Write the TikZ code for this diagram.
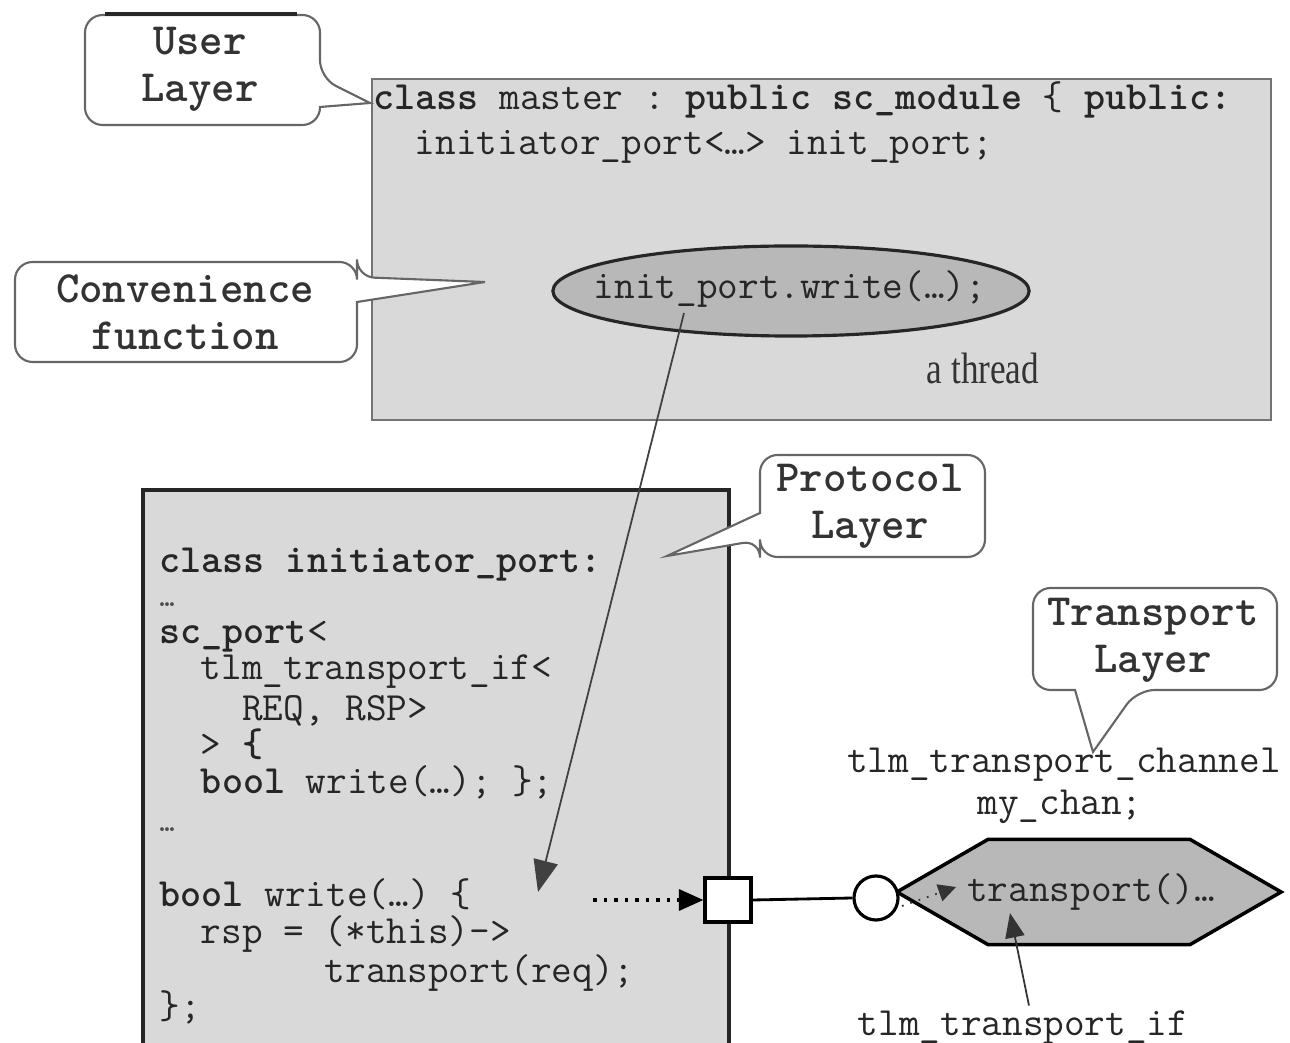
\documentclass[tikz,border=0pt]{standalone}
\usepackage{fontspec}
\setmainfont{Liberation Serif}
\usetikzlibrary{shapes.geometric,shapes.symbols,arrows.meta}

\newcommand{\cfont}{\ttfamily\fontsize{11.4}{13}\selectfont}
\newcommand{\lfont}{\ttfamily\bfseries\fontsize{12.7}{13.4}\selectfont}

\begin{document}
\begin{tikzpicture}[x=0.01cm,y=-0.01cm,
    code/.style={font=\cfont,text=black!85,inner sep=0pt,anchor=base west},
    dots/.style={font=\ttfamily\fontsize{8}{9}\selectfont,text=black!70,inner sep=0pt,anchor=base west},
    layer/.style={font=\lfont,text=black!80,align=center,inner sep=0pt},
    callbox/.style={draw=black!60,line width=0.6pt,fill=white},
    modbox/.style={draw=black!55,line width=0.6pt,fill=black!15,inner sep=0pt},
    portbox/.style={draw=black!85,line width=1.2pt,fill=black!15,inner sep=0pt},
    thread/.style={ellipse,draw=black!85,line width=0.9pt,fill=black!28,inner sep=0pt},
    chan/.style={signal,signal to=east and west,signal pointer angle=60,draw=black,line width=1pt,fill=black!28,inner sep=0pt},
    sport/.style={draw=black,line width=0.9pt,fill=white,inner sep=0pt}]
  \useasboundingbox (0,0) rectangle (1290,1043);

  % user layer: class master
  \node [modbox,minimum width=8.99cm,minimum height=3.41cm] (master) at (821.5,249.5) {};
  \node [code] (m1) at (373,110) {{\bfseries class}~master~:~{\bfseries public~sc\_module}~\{~{\bfseries public:}};
  \node [code] (m2) at (373,155) {~~initiator\_port<…>~init\_port;};
  \node [thread,minimum width=4.76cm,minimum height=0.9cm] (wcall) at (791,291) {};
  \node [code,anchor=base] (wtext) at (790,299) {init\_port.write(…);};
  \node [font=\fontsize{12.5}{14}\selectfont,text=black!80,xscale=0.8,inner sep=0pt,anchor=base] (thr) at (983,384) {a thread};

  % protocol layer: class initiator_port
  \node [portbox,minimum width=5.86cm,minimum height=5.7cm] (iport) at (436,775) {};
  \node [code] (p1) at (159,573) {\bfseries class~initiator\_port:};
  \node [dots] (p2) at (159,607) {…};
  \node [code] (p3) at (159,644) {{\bfseries sc\_port}<};
  \node [code] (p4) at (159,680) {~~tlm\_transport\_if<};
  \node [code] (p5) at (159,721) {~~~~REQ,~RSP>};
  \node [code] (p6) at (159,757) {~~>~{\bfseries\{}};
  \node [code] (p7) at (159,794) {~~{\bfseries bool}~write(…);~\};};
  \node [dots] (p8) at (159,832) {…};
  \node [code] (p9) at (159,907) {{\bfseries bool}~write(…)~\{};
  \node [code] (p10) at (159,944) {~~rsp~=~(*this)->};
  \node [code] (p11) at (159,982) {~~~~~~~~transport(req);};
  \node [code] (p12) at (159,1019) {\};};

  % transport layer: channel
  \node [sport,minimum width=0.46cm,minimum height=0.44cm] (port) at (728,900) {};
  \node [chan,minimum width=3.84cm,minimum height=1.05cm] (chan) at (1089,892) {};
  \node [code,anchor=base] (ctext) at (1091,902) {transport()…};
  \node [sport,circle,minimum size=0.44cm] (export) at (876,898) {};
  \node [code,anchor=base] (ch1) at (1064,773) {tlm\_transport\_channel};
  \node [code,anchor=base] (ch2) at (1060,815) {my\_chan;};
  \node [code,anchor=base] (tif) at (1023,1035) {tlm\_transport\_if};

  % connectors
  \coordinate (wstart) at (684,313);
  \coordinate (wend) at (538,892);
  \coordinate (dstart) at (593,900);
  \coordinate (tstart) at (902,906);
  \coordinate (tend) at (956,887);
  \coordinate (ifend) at (1010,913);
  \draw [black!75,line width=0.5pt,-{Triangle[length=9pt,width=7pt]}] (wstart) -- (wend);
  \draw [black,line width=1pt,dotted,-{Triangle[length=7pt,width=6pt]}] (dstart) -- (port.west);
  \draw [black,line width=0.8pt] (port.east) -- (export.west);
  \draw [black!80,line width=0.5pt,dotted,-{Triangle[length=5pt,width=5pt]}] (tstart) -- (tend);
  \draw [black!80,line width=0.5pt,-{Triangle[length=7pt,width=5.5pt]}] (tif.north) ++(6,-4) -- (ifend);

  % callouts
  \draw [callbox,rounded corners=5pt] (85,15) -- (320,15) -- (320,78) [sharp corners] -- (370,103) -- (320,107) [rounded corners=5pt] -- (320,125) -- (85,125) -- cycle;
  \draw [black!85,line width=1.3pt] (105,14) -- (297,14);
  \node [layer] (ulayer) at (200,69) {User\\Layer};
  \draw [callbox,rounded corners=5pt] (15,262) -- (357,262) -- (357,277) [sharp corners] -- (485,282) -- (357,302) [rounded corners=5pt] -- (357,362) -- (15,362) -- cycle;
  \node [layer] (clayer) at (185,312) {Convenience\\function};
  \draw [callbox,rounded corners=5pt] (760,455) -- (985,455) -- (985,557) -- (760,557) -- (760,540) [sharp corners] -- (667,556) -- (760,513) [rounded corners=5pt] -- cycle;
  \node [layer] (player) at (870,506) {Protocol\\Layer};
  \draw [callbox,rounded corners=5pt] (1033,588) -- (1277,588) -- (1277,690) -- (1137,690) [sharp corners] -- (1093,752) -- (1075,690) [rounded corners=5pt] -- (1033,690) -- cycle;
  \node [layer] (tlayer) at (1153,640) {Transport\\Layer};
\end{tikzpicture}
\end{document}
